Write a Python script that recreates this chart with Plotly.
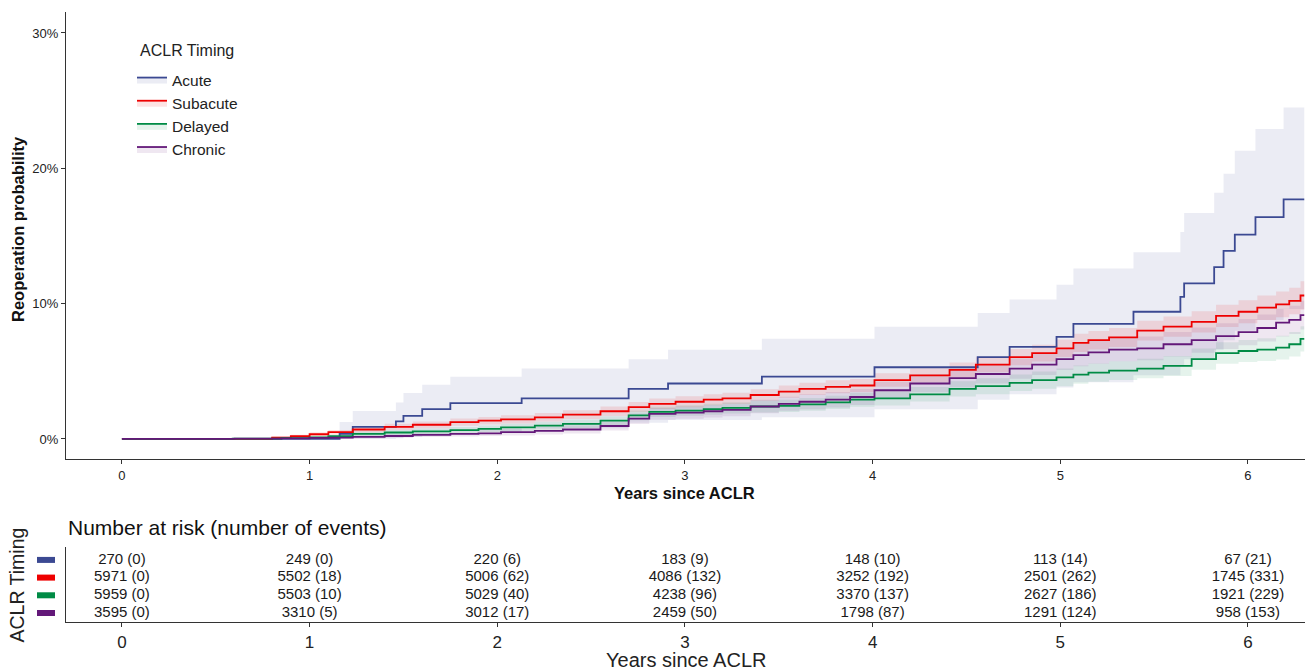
import plotly.graph_objects as go

W, H = 1308, 670

groups = ["Acute", "Subacute", "Delayed", "Chronic"]
line_colors = ["#3B4992", "#EE0000", "#008B45", "#631879"]
band_colors = ["rgba(59,73,146,0.10)", "rgba(238,0,0,0.11)",
               "rgba(0,139,69,0.10)", "rgba(99,24,121,0.10)"]

# ---- Cumulative reoperation probability (%) ----
acute_t = [0, 1.16, 1.23, 1.46, 1.50, 1.60, 1.75, 2.13, 2.70, 2.91, 3.41, 4.01, 4.56,
           4.73, 4.98, 5.07, 5.39, 5.64, 5.66, 5.82, 5.87, 5.93, 6.04, 6.19, 6.30]
acute_v = [0, 0.37, 0.89, 1.30, 1.70, 2.20, 2.65, 3.00, 3.70, 4.10, 4.60, 5.30, 6.05,
           6.80, 7.55, 8.50, 9.40, 10.5, 11.5, 12.7, 13.9, 15.1, 16.4, 17.7, 17.7]
acute_lo = [0, 0, 0, 0.05, 0.15, 0.35, 0.55, 0.8, 1.2, 1.4, 1.6, 2.2, 2.9,
            3.3, 3.8, 4.2, 4.7, 5.4, 5.9, 6.6, 7.3, 8.0, 8.8, 9.6, 9.6]
acute_hi = [0, 1.26, 2.07, 2.7, 3.4, 4.0, 4.6, 5.2, 5.9, 6.6, 7.4, 8.3, 9.3,
            10.3, 11.4, 12.6, 13.8, 15.3, 16.7, 18.2, 19.6, 21.3, 22.9, 24.5, 24.5]

subacute_t = [0, 0.80, 0.90, 1.00, 1.10, 1.23, 1.40, 1.55, 1.75, 1.90, 2.02, 2.20, 2.35,
              2.55, 2.70, 2.81, 2.95, 3.10, 3.20, 3.35, 3.50, 3.61, 3.75, 3.88, 4.01, 4.20,
              4.41, 4.55, 4.73, 4.85, 4.98, 5.07, 5.15, 5.26, 5.41, 5.55, 5.70, 5.83, 5.95,
              6.05, 6.15, 6.22, 6.28, 6.30]
subacute_v = [0, 0.10, 0.20, 0.35, 0.50, 0.70, 0.90, 1.05, 1.25, 1.35, 1.45, 1.60, 1.80,
              2.05, 2.35, 2.60, 2.75, 2.90, 3.00, 3.25, 3.50, 3.70, 3.85, 3.95, 4.35, 4.70,
              5.10, 5.50, 6.05, 6.35, 6.70, 7.10, 7.30, 7.50, 8.00, 8.30, 8.65, 9.10, 9.40,
              9.70, 9.95, 10.2, 10.6, 10.6]
subacute_lo = [0, 0.02, 0.08, 0.20, 0.33, 0.50, 0.67, 0.80, 0.98, 1.07, 1.15, 1.29, 1.47,
               1.70, 1.97, 2.21, 2.35, 2.49, 2.58, 2.82, 3.05, 3.24, 3.37, 3.47, 3.85, 4.18,
               4.55, 4.93, 5.45, 5.73, 6.05, 6.43, 6.62, 6.80, 7.27, 7.55, 7.87, 8.28, 8.55,
               8.80, 9.00, 9.22, 9.55, 9.55]
subacute_hi = [0, 0.20, 0.32, 0.50, 0.67, 0.90, 1.13, 1.30, 1.52, 1.63, 1.75, 1.91, 2.13,
               2.40, 2.73, 2.99, 3.15, 3.31, 3.42, 3.68, 3.95, 4.16, 4.33, 4.43, 4.85, 5.22,
               5.65, 6.07, 6.65, 6.97, 7.35, 7.77, 7.98, 8.20, 8.73, 9.05, 9.43, 9.92, 10.25,
               10.6, 10.9, 11.18, 11.65, 11.65]

delayed_t = [0, 0.59, 0.85, 1.00, 1.10, 1.23, 1.40, 1.55, 1.75, 1.90, 2.02, 2.20, 2.35,
             2.55, 2.70, 2.81, 2.95, 3.10, 3.20, 3.35, 3.50, 3.61, 3.75, 3.88, 4.01, 4.20,
             4.41, 4.55, 4.73, 4.85, 4.98, 5.07, 5.15, 5.26, 5.41, 5.55, 5.70, 5.83, 5.95,
             6.05, 6.15, 6.22, 6.28, 6.30]
delayed_v = [0, 0.03, 0.06, 0.12, 0.20, 0.37, 0.48, 0.56, 0.66, 0.74, 0.85, 0.98, 1.12,
             1.35, 1.75, 2.00, 2.10, 2.20, 2.30, 2.40, 2.45, 2.55, 2.70, 2.90, 3.00, 3.30,
             3.70, 3.90, 4.15, 4.35, 4.55, 4.75, 4.90, 5.05, 5.20, 5.40, 5.90, 6.35, 6.50,
             6.60, 6.75, 7.00, 7.40, 7.40]
delayed_lo = [0, 0, 0, 0.02, 0.07, 0.20, 0.29, 0.35, 0.43, 0.49, 0.58, 0.69, 0.81,
              1.02, 1.39, 1.62, 1.71, 1.79, 1.88, 1.96, 2.00, 2.08, 2.21, 2.39, 2.48, 2.76,
              3.13, 3.31, 3.54, 3.72, 3.90, 4.08, 4.22, 4.35, 4.48, 4.66, 5.12, 5.55, 5.68,
              5.76, 5.88, 6.10, 6.47, 6.47]
delayed_hi = [0, 0.08, 0.14, 0.24, 0.33, 0.54, 0.67, 0.77, 0.89, 0.99, 1.12, 1.27, 1.43,
              1.68, 2.11, 2.38, 2.49, 2.61, 2.72, 2.84, 2.90, 3.02, 3.19, 3.41, 3.52, 3.84,
              4.27, 4.49, 4.76, 4.98, 5.20, 5.42, 5.58, 5.75, 5.92, 6.14, 6.68, 7.15, 7.32,
              7.44, 7.62, 7.90, 8.33, 8.33]

chronic_t = [0, 0.60, 0.85, 1.00, 1.10, 1.23, 1.40, 1.55, 1.75, 1.90, 2.02, 2.20, 2.35,
             2.55, 2.70, 2.81, 2.95, 3.10, 3.20, 3.35, 3.50, 3.61, 3.75, 3.88, 4.01, 4.20,
             4.41, 4.55, 4.73, 4.85, 4.98, 5.07, 5.15, 5.26, 5.41, 5.55, 5.70, 5.83, 5.95,
             6.05, 6.15, 6.22, 6.28, 6.30]
chronic_v = [0, 0.03, 0.05, 0.08, 0.10, 0.15, 0.22, 0.30, 0.37, 0.42, 0.50, 0.60, 0.70,
             0.96, 1.50, 1.85, 1.95, 2.05, 2.15, 2.40, 2.60, 2.75, 2.90, 3.10, 3.60, 4.10,
             4.50, 4.80, 5.20, 5.50, 5.90, 6.20, 6.40, 6.60, 6.70, 7.00, 7.30, 7.60, 7.90,
             8.20, 8.60, 8.80, 9.15, 9.15]
chronic_lo = [0, 0, 0, 0, 0.01, 0.04, 0.09, 0.14, 0.19, 0.22, 0.26, 0.33, 0.40,
              0.62, 1.10, 1.42, 1.50, 1.59, 1.67, 1.90, 2.08, 2.20, 2.33, 2.51, 2.98, 3.45,
              3.82, 4.09, 4.45, 4.73, 5.10, 5.38, 5.56, 5.74, 5.82, 6.10, 6.37, 6.65, 6.93,
              7.20, 7.57, 7.75, 8.08, 8.08]
chronic_hi = [0, 0.08, 0.11, 0.17, 0.19, 0.26, 0.35, 0.46, 0.55, 0.62, 0.74, 0.87, 1.00,
              1.30, 1.90, 2.28, 2.40, 2.51, 2.63, 2.90, 3.12, 3.30, 3.47, 3.69, 4.22, 4.75,
              5.18, 5.51, 5.95, 6.27, 6.70, 7.02, 7.24, 7.46, 7.58, 7.90, 8.23, 8.55, 8.87,
              9.20, 9.63, 9.85, 10.22, 10.22]

# ---- Risk table ----
risk_times = [0, 1, 2, 3, 4, 5, 6]
acute_risk = [270, 249, 220, 183, 148, 113, 67]
acute_events = [0, 0, 6, 9, 10, 14, 21]
subacute_risk = [5971, 5502, 5006, 4086, 3252, 2501, 1745]
subacute_events = [0, 18, 62, 132, 192, 262, 331]
delayed_risk = [5959, 5503, 5029, 4238, 3370, 2627, 1921]
delayed_events = [0, 10, 40, 96, 137, 186, 229]
chronic_risk = [3595, 3310, 3012, 2459, 1798, 1291, 958]
chronic_events = [0, 5, 17, 50, 87, 124, 153]

y_ticks = [0, 10, 20, 30]
y_ticklabels = ["0%", "10%", "20%", "30%"]
x_ticks = [0, 1, 2, 3, 4, 5, 6]

curves = [
    (acute_t, acute_v, acute_lo, acute_hi),
    (subacute_t, subacute_v, subacute_lo, subacute_hi),
    (delayed_t, delayed_v, delayed_lo, delayed_hi),
    (chronic_t, chronic_v, chronic_lo, chronic_hi),
]
risk = [(acute_risk, acute_events), (subacute_risk, subacute_events),
        (delayed_risk, delayed_events), (chronic_risk, chronic_events)]
rows = [4, 3, 2, 1]

FONT = "Arial, 'Liberation Sans', sans-serif"
fig = go.Figure()

# confidence bands
for (t, v, lo, hi), bc in zip(curves, band_colors):
    fig.add_trace(go.Scatter(x=t, y=lo, mode="lines", line=dict(width=0, shape="hv"),
                             showlegend=False, hoverinfo="skip"))
    fig.add_trace(go.Scatter(x=t, y=hi, mode="lines", line=dict(width=0, shape="hv"),
                             fill="tonexty", fillcolor=bc, showlegend=False, hoverinfo="skip"))

# curves
for (t, v, lo, hi), g, c in zip(curves, groups, line_colors):
    fig.add_trace(go.Scatter(x=t, y=v, mode="lines", name=g,
                             line=dict(color=c, width=1.8, shape="hv"), showlegend=False))

# legend entries (line over band fill)
for g, c, bc in zip(groups, line_colors, band_colors):
    fig.add_trace(go.Scatter(x=[None], y=[None], mode="lines", name=g, fill="toself",
                             fillcolor=bc, line=dict(color=c, width=1.8)))

# risk table text
for (n, e), r in zip(risk, rows):
    fig.add_trace(go.Scatter(
        x=risk_times, y=[r] * len(risk_times), mode="text",
        text=[f"{a} ({b})" for a, b in zip(n, e)],
        textfont=dict(family=FONT, size=15, color="#1a1a1a"),
        xaxis="x2", yaxis="y2", showlegend=False, hoverinfo="skip", cliponaxis=False))

xdom = [66 / W, 1305 / W]
xrange = [-0.298, 6.304]
axis_common = dict(showline=True, linecolor="#333", linewidth=1.3, showgrid=False,
                   zeroline=False, ticks="outside", ticklen=4, tickcolor="#333", tickwidth=1,
                   automargin=False)

# colour keys of the risk-table rows
shapes = [dict(type="rect", xref="paper", yref="y2", x0=37 / W, x1=55 / W,
               y0=r - 0.17, y1=r + 0.17, fillcolor=c, line=dict(width=0))
          for r, c in zip(rows, line_colors)]

annotations = [
    dict(text="Number at risk (number of events)", x=66 / W, y=1 - 527 / H,
         xanchor="left", yanchor="middle", font=dict(size=21, color="#111")),
    dict(text="<b>Reoperation probability</b>", x=18 / W, y=1 - 229 / H, textangle=-90,
         xanchor="center", yanchor="middle", font=dict(size=16.5, color="#111")),
    dict(text="<b>Years since ACLR</b>", x=685 / W, y=1 - 493 / H,
         xanchor="center", yanchor="middle", font=dict(size=16.5, color="#111")),
    dict(text="Years since ACLR", x=686 / W, y=1 - 660 / H,
         xanchor="center", yanchor="middle", font=dict(size=20, color="#222")),
    dict(text="ACLR Timing", x=16.5 / W, y=1 - 585 / H, textangle=-90,
         xanchor="center", yanchor="middle", font=dict(size=19.5, color="#222")),
    dict(text="ACLR Timing", x=138 / W, y=1 - 51 / H,
         xanchor="left", yanchor="middle", font=dict(size=16, color="#222")),
]
for a in annotations:
    a.update(xref="paper", yref="paper", showarrow=False)

fig.update_layout(
    width=W, height=H,
    margin=dict(l=0, r=0, t=0, b=0),
    paper_bgcolor="white", plot_bgcolor="white",
    font=dict(family=FONT, color="#222"),
    xaxis=dict(domain=xdom, range=xrange, tickvals=x_ticks, anchor="y",
               tickfont=dict(size=13, color="#222"), **axis_common),
    yaxis=dict(domain=[1 - 459 / H, 1 - 12 / H], range=[-1.48, 31.55], anchor="x",
               tickvals=y_ticks, ticktext=y_ticklabels,
               tickfont=dict(size=13, color="#222"), **axis_common),
    xaxis2=dict(domain=xdom, range=xrange, tickvals=x_ticks, anchor="y2",
                tickfont=dict(size=17, color="#222"), **axis_common),
    yaxis2=dict(domain=[1 - 622 / H, 1 - 547 / H], range=[0.49, 4.73], anchor="x2",
                showticklabels=False, showline=True, linecolor="#333", linewidth=1.3,
                showgrid=False, zeroline=False, ticks="", automargin=False),
    legend=dict(x=132 / W, y=1 - 63 / H, xanchor="left", yanchor="top",
                bgcolor="rgba(0,0,0,0)", font=dict(size=15.5, color="#222"),
                traceorder="normal", itemwidth=30, tracegroupgap=0),
    shapes=shapes,
    annotations=annotations,
)

fig.write_html("out.html", config={"displayModeBar": False},
               post_script="document.body.style.margin='0';document.body.style.overflow='hidden';")
